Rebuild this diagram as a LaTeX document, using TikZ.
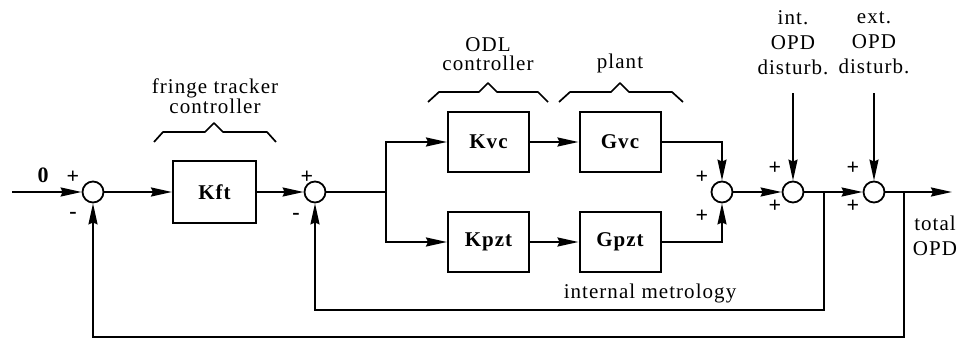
\documentclass[tikz,border=0pt]{standalone}
\usepackage{fontspec}
\setmainfont{Liberation Serif}
\newfontfamily\lblfam[LetterSpace=5]{Liberation Serif}
\newfontfamily\boxfam[LetterSpace=5]{Liberation Serif}
\usetikzlibrary{arrows.meta}
\begin{document}
\begin{tikzpicture}[x=1pt,y=-1pt, line width=2pt,
  blk/.style={draw, minimum width=81pt, minimum height=60pt, inner sep=0pt,
    font=\boxfam\bfseries\fontsize{21}{21}\selectfont},
  sumj/.style={draw, circle, minimum size=21pt, inner sep=0pt, line width=1.8pt},
  sig/.style={-{Stealth[length=21pt,width=9pt,inset=2pt]}},
  lbl/.style={font=\lblfam\fontsize{21}{19}\selectfont, inner sep=0pt, align=center},
  lblwide/.style={font=\lblfam\fontsize{21}{25}\selectfont, inner sep=0pt, align=center},
  sgn/.style={font=\bfseries\fontsize{22}{22}\selectfont, inner sep=0pt},
  bracestyle/.style={line width=1.7pt, line join=round}
]
\useasboundingbox (0,0) rectangle (963,345);

% blocks and junctions
\node[sumj] (s1) at (93,192) {};
\node[blk, minimum width=83pt, minimum height=62pt] (kft) at (214.5,192) {Kft};
\node[sumj] (s2) at (315,192) {};
\node[blk] (kvc) at (488.5,142) {Kvc};
\node[blk] (gvc) at (620,142) {Gvc};
\node[blk] (kpzt) at (488.5,242) {Kpzt};
\node[blk] (gpzt) at (620,242) {Gpzt};
\node[sumj] (s3) at (722,192) {};
\node[sumj] (s4) at (793,192) {};
\node[sumj] (s5) at (874,192) {};

\coordinate (in) at (12,192);
\coordinate (out) at (952,192);
\coordinate (sp) at (386,192);
\coordinate (b1) at (824,192);
\coordinate (b2) at (904,192);
\coordinate (d1) at (793,93);
\coordinate (d2) at (874,93);

% connectors
\draw[sig] (in) -- (s1);
\draw[sig] (s1) -- (kft);
\draw[sig] (kft) -- (s2);
\draw (s2) -- (sp);
\draw[sig] (sp) |- (kvc);
\draw[sig] (sp) |- (kpzt);
\draw[sig] (kvc) -- (gvc);
\draw[sig] (kpzt) -- (gpzt);
\draw[sig] (gvc) -| (s3);
\draw[sig] (gpzt) -| (s3);
\draw[sig] (s3) -- (s4);
\draw[sig] (s4) -- (s5);
\draw[sig] (s5) -- (out);
\draw[sig] (d1) -- (s4);
\draw[sig] (d2) -- (s5);
\draw[sig] (b1) -- ++(0,118) -| (s2);
\draw[sig] (b2) -- ++(0,145) -| (s1);

% braces
\draw[bracestyle] (154,142) -- (163,132) -- (205,132) -- (214,123) -- (223,132) -- (267,132) -- (276,142);
\draw[bracestyle] (428,102) -- (439,92) -- (479,92) -- (488,83) -- (497,92) -- (538,92) -- (548,102);
\draw[bracestyle] (559,102) -- (570,92) -- (611,92) -- (620,83) -- (629,92) -- (672,92) -- (683,102);

% labels
\node[lbl] (tft) at (215,96) {fringe tracker\\controller};
\node[lbl] (todl) at (488,54) {ODL\\controller};
\node[lbl] (tpl) at (620,63) {plant};
\node[lblwide] (tint) at (793,43) {int.\\OPD\\disturb.};
\node[lblwide] (text) at (874,43) {ext.\\OPD\\disturb.};
\node[lblwide] (ttot) at (935,236) {total\\OPD};
\node[lbl] (tim) at (650,293) {internal metrology};

% signs
\node[sgn] (zero) at (43,175) {0};
\node[sgn] (p1) at (73,177) {+};
\node[sgn] (m1) at (73,215) {-};
\node[sgn] (p2) at (307,177) {+};
\node[sgn] (m2) at (296,216) {-};
\node[sgn] (p3a) at (702,177) {+};
\node[sgn] (p3b) at (702,216) {+};
\node[sgn] (p4a) at (775,168) {+};
\node[sgn] (p4b) at (775,206) {+};
\node[sgn] (p5a) at (853,168) {+};
\node[sgn] (p5b) at (853,206) {+};
\end{tikzpicture}
\end{document}
